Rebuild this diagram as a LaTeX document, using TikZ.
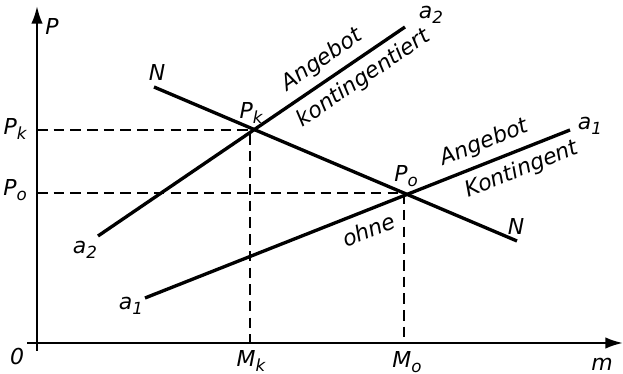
\documentclass[tikz,border=0pt]{standalone}
\usepackage{fontspec}
\setmainfont{DejaVu Sans}
\usetikzlibrary{arrows.meta, positioning}
\newcommand{\idx}[2]{#1\raisebox{-0.45ex}{\fontsize{9.5}{10}\selectfont #2}}

\begin{document}
\begin{tikzpicture}[
  x=0.02cm, y=-0.02cm,
  axis/.style={-{Latex[length=10pt,width=6.5pt]}, line width=1.3pt},
  curve/.style={line width=1.9pt},
  guide/.style={dash pattern=on 6pt off 3.5pt, line width=0.9pt},
  lbl/.style={font=\itshape\fontsize{12.5}{14}\selectfont, inner sep=1pt}
]
  \useasboundingbox (0,0) rectangle (623,374);

  % axes
  \coordinate (O) at (37,343);
  \coordinate (ytip) at (37,6);
  \coordinate (xtip) at (623,343);
  \draw[axis] (37,351) -- (ytip);
  \draw[axis] (27,343) -- (xtip);

  % end points of the lines
  \coordinate (Ns) at (154,87);
  \coordinate (Ne) at (517,241);
  \coordinate (a2s) at (98,236);
  \coordinate (a2e) at (405,27);
  \coordinate (a1s) at (145,298);
  \coordinate (a1e) at (570,130);
  \coordinate (pk) at (250,130);
  \coordinate (p0) at (404,193);

  % guides
  \draw[guide] (O |- pk) -- (pk) -- (pk |- O);
  \draw[guide] (O |- p0) -- (p0) -- (p0 |- O);

  % curves
  \draw[curve] (Ns) -- (Ne);
  \draw[curve] (a2s) -- node[lbl, pos=0.765, above=3pt, sloped] {Angebot}
    node[lbl, pos=0.83, below=3pt, sloped] {kontingentiert} (a2e);
  \draw[curve] (a1s) -- node[lbl, pos=0.51, below=4pt, sloped] {ohne}
    node[lbl, pos=0.816, above=3pt, sloped] {Angebot}
    node[lbl, pos=0.87, below=3pt, sloped] {Kontingent} (a1e);

  % labels
  \node[lbl] (lP) at (52,27) {P};
  \node[lbl] (lm) at (602,364) {m};
  \node[lbl] (lO) at (17,357) {0};
  \node[lbl] (lPk) at (15,129) {\idx{P}{k}};
  \node[lbl] (lP0) at (15,190) {\idx{P}{o}};
  \node[lbl] (lMk) at (251,361) {\idx{M}{k}};
  \node[lbl] (lM0) at (407,362) {\idx{M}{o}};
  \node[lbl] (lpk) at (251,113) {\idx{P}{k}};
  \node[lbl] (lp0) at (406,176) {\idx{P}{o}};
  \node[lbl] (lN1) at (157,73) {N};
  \node[lbl] (lN2) at (516,227) {N};
  \node[lbl] (la2t) at (431,15) {\idx{a}{2}};
  \node[lbl] (la2b) at (85,250) {\idx{a}{2}};
  \node[lbl] (la1b) at (131,306) {\idx{a}{1}};
  \node[lbl] (la1t) at (590,126) {\idx{a}{1}};
\end{tikzpicture}
\end{document}
